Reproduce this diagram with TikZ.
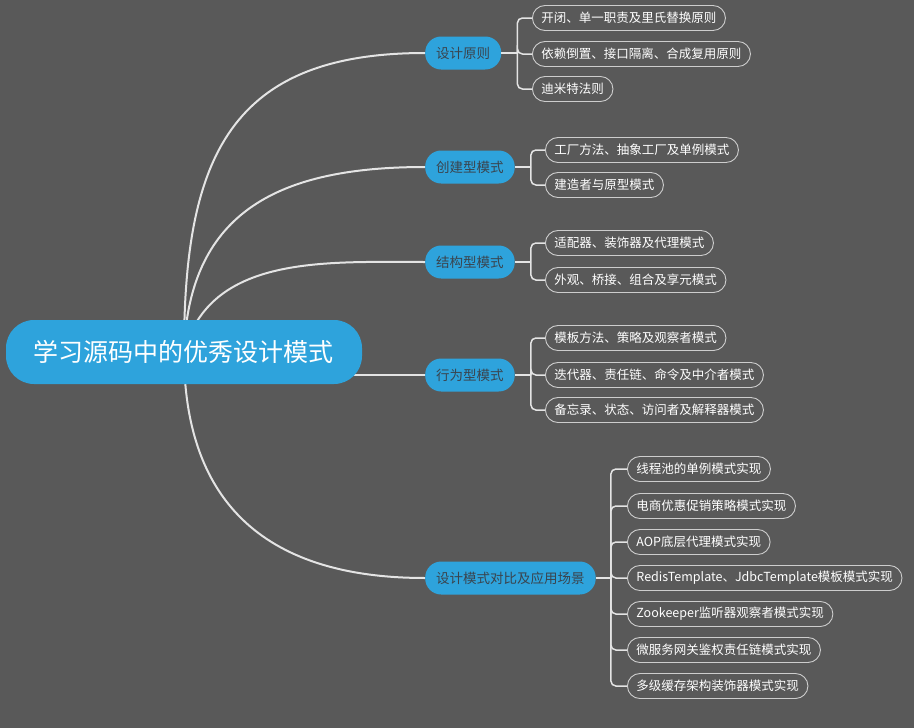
\documentclass[tikz,border=0pt]{standalone}
\usepackage{fontspec}
\setmainfont{Noto Sans CJK SC}
\usetikzlibrary{backgrounds}
\definecolor{bggray}{RGB}{89,89,89}
\definecolor{topicblue}{RGB}{46,163,220}
\definecolor{topictext}{RGB}{58,68,78}
\definecolor{linegray}{RGB}{228,228,228}
\definecolor{leafline}{RGB}{205,205,205}
\tikzset{
rootbox/.style={fill=topicblue,text=white,rounded corners=28pt,minimum width=356pt,minimum height=64pt,inner sep=0pt,font=\fontsize{25}{30}\selectfont},
topicbox/.style={fill=topicblue,text=topictext,rounded corners=16pt,minimum height=33pt,inner xsep=11pt,anchor=west,font=\fontsize{13.5}{16}\selectfont},
leafbox/.style={draw=leafline,line width=0.9pt,text=white,rounded corners=12.5pt,minimum height=25pt,inner xsep=9pt,anchor=west,font=\fontsize{12.5}{15}\selectfont},
mainline/.style={draw=linegray,line width=2pt},
subline/.style={draw=linegray,line width=1.5pt,rounded corners=5pt}
}
\begin{document}
\begin{tikzpicture}[x=1pt,y=-1pt]
\node[rootbox]
(root) at (184,352) {学习源码中的优秀设计模式};
\node[topicbox]
(principle) at (425,53) {设计原则};
\node[topicbox]
(creational) at (425,167) {创建型模式};
\node[topicbox]
(structural) at (425,262) {结构型模式};
\node[topicbox]
(behavioral) at (425,375) {行为型模式};
\node[topicbox]
(practice) at (425,578) {设计模式对比及应用场景};
\node[leafbox]
(p1) at (532,18) {开闭、单一职责及里氏替换原则};
\node[leafbox]
(p2) at (532,54) {依赖倒置、接口隔离、合成复用原则};
\node[leafbox]
(p3) at (532,89) {迪米特法则};
\node[leafbox]
(c1) at (545,150) {工厂方法、抽象工厂及单例模式};
\node[leafbox]
(c2) at (545,185) {建造者与原型模式};
\node[leafbox]
(s1) at (545,243) {适配器、装饰器及代理模式};
\node[leafbox]
(s2) at (545,280) {外观、桥接、组合及享元模式};
\node[leafbox]
(b1) at (545,338) {模板方法、策略及观察者模式};
\node[leafbox]
(b2) at (545,375) {迭代器、责任链、命令及中介者模式};
\node[leafbox]
(b3) at (545,410) {备忘录、状态、访问者及解释器模式};
\node[leafbox]
(a1) at (627,469) {线程池的单例模式实现};
\node[leafbox]
(a2) at (627,506) {电商优惠促销策略模式实现};
\node[leafbox]
(a3) at (627,542) {AOP底层代理模式实现};
\node[leafbox]
(a4) at (627,578) {RedisTemplate、JdbcTemplate模板模式实现};
\node[leafbox]
(a5) at (627,614) {Zookeeper监听器观察者模式实现};
\node[leafbox]
(a6) at (627,650) {微服务网关鉴权责任链模式实现};
\node[leafbox]
(a7) at (627,686) {多级缓存架构装饰器模式实现};
\begin{scope}[on background layer]
\fill[bggray] (0,0) rectangle (914,728);
\draw[mainline] (root.center) to[out=90,in=180,looseness=1.3] (principle.west);
\draw[mainline] (root.center) to[out=88,in=180,looseness=1.2] (creational.west);
\draw[mainline] (root.center) to[out=75,in=180] (structural.west);
\draw[mainline] (root.center |- behavioral.west) -- (behavioral.west);
\draw[mainline] (root.center) to[out=-90,in=180,looseness=1.2] (practice.west);
\end{scope}
\coordinate (pbar) at ([xshift=16pt]principle.east);
\coordinate (cbar) at ([xshift=16pt]creational.east);
\coordinate (sbar) at ([xshift=16pt]structural.east);
\coordinate (bbar) at ([xshift=16pt]behavioral.east);
\coordinate (abar) at ([xshift=15pt]practice.east);
\draw[subline] (principle.east) -- (pbar);
\draw[subline] (pbar) |- (p1.west);
\draw[subline] (pbar) |- (p2.west);
\draw[subline] (pbar) |- (p3.west);
\draw[subline] (creational.east) -- (cbar);
\draw[subline] (cbar) |- (c1.west);
\draw[subline] (cbar) |- (c2.west);
\draw[subline] (structural.east) -- (sbar);
\draw[subline] (sbar) |- (s1.west);
\draw[subline] (sbar) |- (s2.west);
\draw[subline] (behavioral.east) -- (bbar);
\draw[subline] (bbar) |- (b1.west);
\draw[subline] (bbar) |- (b2.west);
\draw[subline] (bbar) |- (b3.west);
\draw[subline] (practice.east) -- (abar);
\draw[subline] (abar) |- (a1.west);
\draw[subline] (abar) |- (a2.west);
\draw[subline] (abar) |- (a3.west);
\draw[subline] (abar) |- (a4.west);
\draw[subline] (abar) |- (a5.west);
\draw[subline] (abar) |- (a6.west);
\draw[subline] (abar) |- (a7.west);
\end{tikzpicture}
\end{document}
